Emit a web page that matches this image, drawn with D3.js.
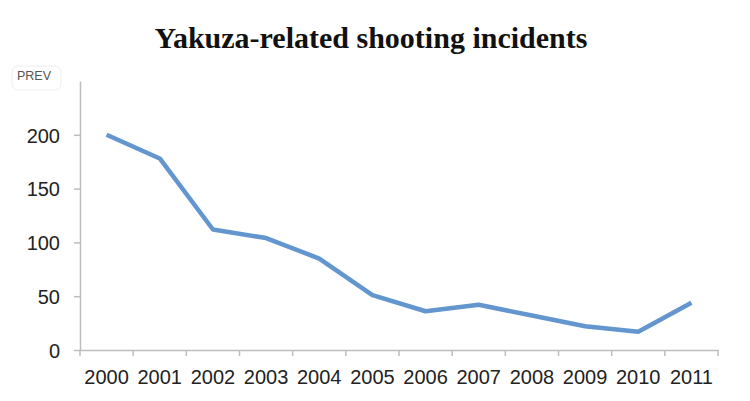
<!DOCTYPE html>
<html>
<head>
<meta charset="utf-8">
<script src="https://cdn.jsdelivr.net/npm/d3@7"></script>
<style>
  body { margin: 0; background: #fff; }
</style>
</head>
<body>
<div id="chart"></div>
<script>
// yearly counts
const years = ["2000","2001","2002","2003","2004","2005","2006","2007","2008","2009","2010","2011"];
const incidents = [200, 178, 112, 104, 85, 51, 36, 42, 32, 22, 17, 44];
const yTicks = [0, 50, 100, 150, 200];

const width = 750, height = 401;
const margin = {top: 81, right: 32, bottom: 51, left: 80};

const svg = d3.select("#chart")
  .append("svg")
    .attr("width", width)
    .attr("height", height);

// title
svg.append("text")
  .attr("x", 371)
  .attr("y", 48)
  .attr("text-anchor", "middle")
  .style("font-family", "'Liberation Serif', 'Times New Roman', serif")
  .style("font-weight", "bold")
  .style("font-size", "30px")
  .attr("fill", "#111")
  .text("Yakuza-related shooting incidents");

// little faded PREV button in the corner
svg.append("rect")
  .attr("x", 12).attr("y", 66)
  .attr("width", 49).attr("height", 24)
  .attr("rx", 6)
  .attr("fill", "#fff")
  .attr("stroke", "#ededed");
svg.append("text")
  .attr("x", 17).attr("y", 80)
  .style("font-family", "'Liberation Sans', Arial, sans-serif")
  .style("font-size", "12.5px")
  .attr("fill", "#555")
  .text("PREV");

const x = d3.scaleBand()
  .domain(years)
  .range([margin.left, width - margin.right]);

const y = d3.scaleLinear()
  .domain([0, 250])
  .range([height - margin.bottom, margin.top]);

// y axis
const yAxis = svg.append("g")
  .attr("transform", `translate(${margin.left},0)`)
  .call(d3.axisLeft(y).tickValues(yTicks).tickSize(6).tickPadding(14).tickSizeOuter(0));

// x axis: ticks on the band edges
const xAxis = svg.append("g")
  .attr("transform", `translate(0,${height - margin.bottom})`)
  .call(d3.axisBottom(x).tickSize(0).tickPadding(20));

xAxis.selectAll(".edge")
  .data(d3.range(years.length + 1))
  .join("line")
    .attr("class", "edge")
    .attr("x1", d => margin.left + d * x.step())
    .attr("x2", d => margin.left + d * x.step())
    .attr("y1", 0)
    .attr("y2", 6);

[yAxis, xAxis].forEach(function(g) {
  g.select(".domain").attr("stroke", "#bdbdbd").attr("stroke-width", 1.5);
  g.selectAll("line").attr("stroke", "#bdbdbd").attr("stroke-width", 1.5);
  g.selectAll("text")
    .style("font-family", "'Liberation Sans', Arial, sans-serif")
    .style("font-size", "20px")
    .attr("fill", "#222");
});
yAxis.selectAll("text").attr("dy", "0.36em");
xAxis.selectAll("text").attr("dy", "0.71em");

// the line
const line = d3.line()
  .x((d, i) => x(years[i]) + x.bandwidth() / 2)
  .y(d => y(d));

svg.append("path")
  .datum(incidents)
  .attr("fill", "none")
  .attr("stroke", "#6396cf")
  .attr("stroke-width", 4.5)
  .attr("stroke-linejoin", "round")
  .attr("stroke-linecap", "butt")
  .attr("d", line);
</script>
</body>
</html>
